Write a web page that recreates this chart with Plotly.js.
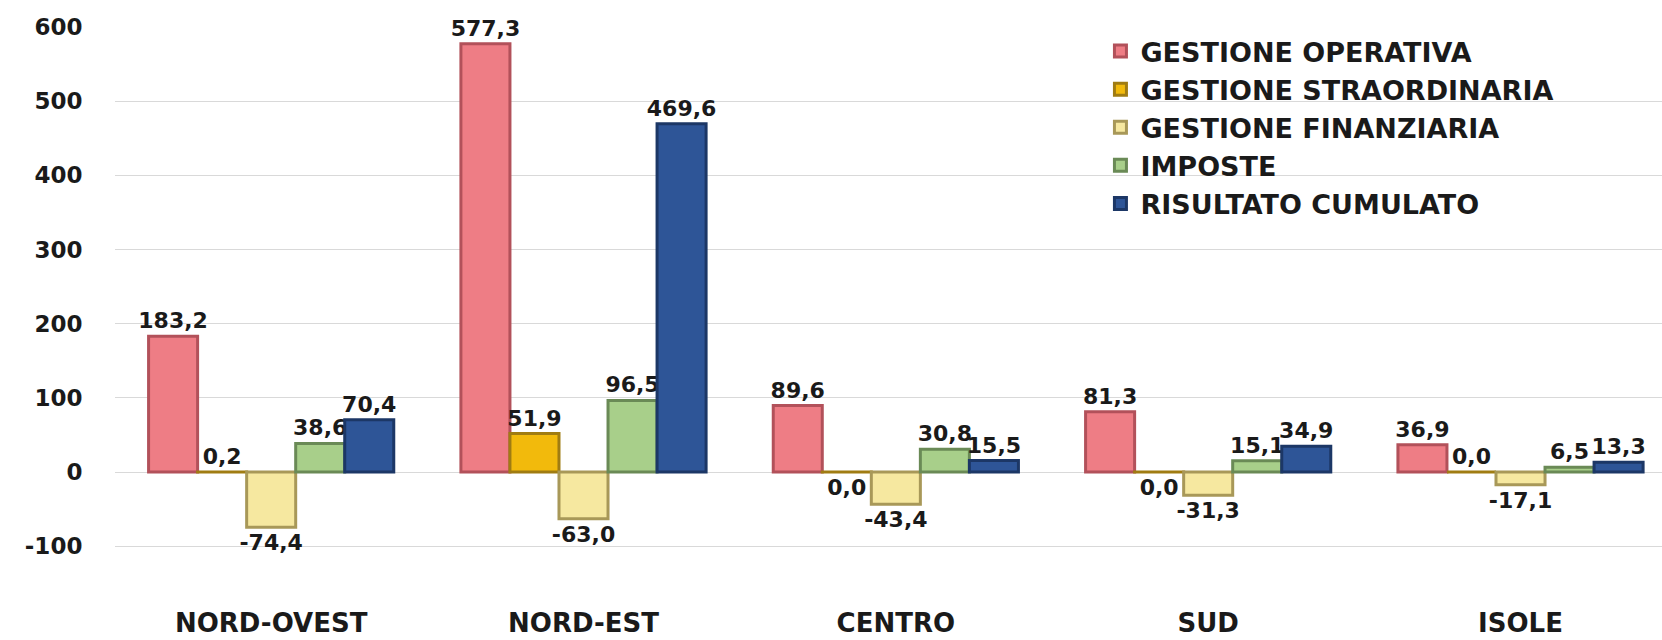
<!DOCTYPE html>
<html>
<head>
<meta charset="utf-8">
<script src="https://cdn.plot.ly/plotly-3.0.1.min.js"></script>
<style>html,body{margin:0;padding:0;background:#fff;}#chart{width:1662px;height:640px;}</style>
</head>
<body>
<div id="chart"></div>
<script>
const categories = ["NORD-OVEST", "NORD-EST", "CENTRO", "SUD", "ISOLE"];
const seriesNames = ["GESTIONE OPERATIVA", "GESTIONE STRAORDINARIA", "GESTIONE FINANZIARIA", "IMPOSTE", "RISULTATO CUMULATO"];
const gestioneOperativa = [183.2, 577.3, 89.6, 81.3, 36.9];
const gestioneStraordinaria = [0.2, 51.9, -0.04, -0.04, 0.0];
const gestioneFinanziaria = [-74.4, -63.0, -43.4, -31.3, -17.1];
const imposte = [38.6, 96.5, 30.8, 15.1, 6.5];
const risultatoCumulato = [70.4, 469.6, 15.5, 34.9, 13.3];
const yTicks = [-100, 0, 100, 200, 300, 400, 500, 600];

const fillColors = ["#EE7D85", "#F2BA0C", "#F6E8A0", "#A8CF8A", "#2E5597"];
const lineColors = ["#B2515A", "#A07C12", "#A89858", "#6A8A56", "#1C3766"];

function fmt(v) {
  let s = v.toFixed(1);
  if (s === "-0.0") s = "0.0";
  return s.replace(".", ",");
}

const allSeries = [gestioneOperativa, gestioneStraordinaria, gestioneFinanziaria, imposte, risultatoCumulato];
const font = {family: "DejaVu Sans, Verdana, sans-serif", weight: "bold", color: "#1a1a1a"};

const traces = allSeries.map((vals, i) => ({
  type: "bar",
  name: seriesNames[i],
  x: categories,
  y: vals,
  text: vals.map(fmt),
  textposition: "outside",
  cliponaxis: false,
  constraintext: "none",
  textfont: Object.assign({}, font, {size: 22}),
  marker: {color: fillColors[i], line: {color: lineColors[i], width: 3}},
  hoverinfo: "x+y"
}));

const layout = {
  width: 1662,
  height: 640,
  margin: {l: 115, r: 0, t: 27, b: 50},
  paper_bgcolor: "#ffffff",
  plot_bgcolor: "#ffffff",
  barmode: "group",
  bargap: 0.215,
  bargroupgap: 0,
  showlegend: true,
  legend: {
    x: 0.637, y: 1.0, xanchor: "left", yanchor: "top",
    font: Object.assign({}, font, {size: 27}),
    bgcolor: "rgba(0,0,0,0)",
    tracegroupgap: 0
  },
  xaxis: {
    type: "category",
    range: [-0.5, 4.453],
    showgrid: false,
    showline: false,
    zeroline: false,
    ticks: "outside",
    ticklen: 10,
    tickcolor: "rgba(0,0,0,0)",
    tickfont: Object.assign({}, font, {size: 26})
  },
  yaxis: {
    range: [-159, 600],
    tickvals: yTicks,
    ticktext: yTicks.map(String),
    showgrid: true,
    gridcolor: "#d9d9d9",
    gridwidth: 1,
    zeroline: true,
    zerolinecolor: "#d9d9d9",
    zerolinewidth: 1,
    showline: false,
    ticks: "outside",
    ticklen: 27,
    tickcolor: "rgba(0,0,0,0)",
    tickfont: Object.assign({}, font, {size: 23})
  }
};

Plotly.newPlot("chart", traces, layout, {displayModeBar: false, staticPlot: true});
</script>
</body>
</html>
